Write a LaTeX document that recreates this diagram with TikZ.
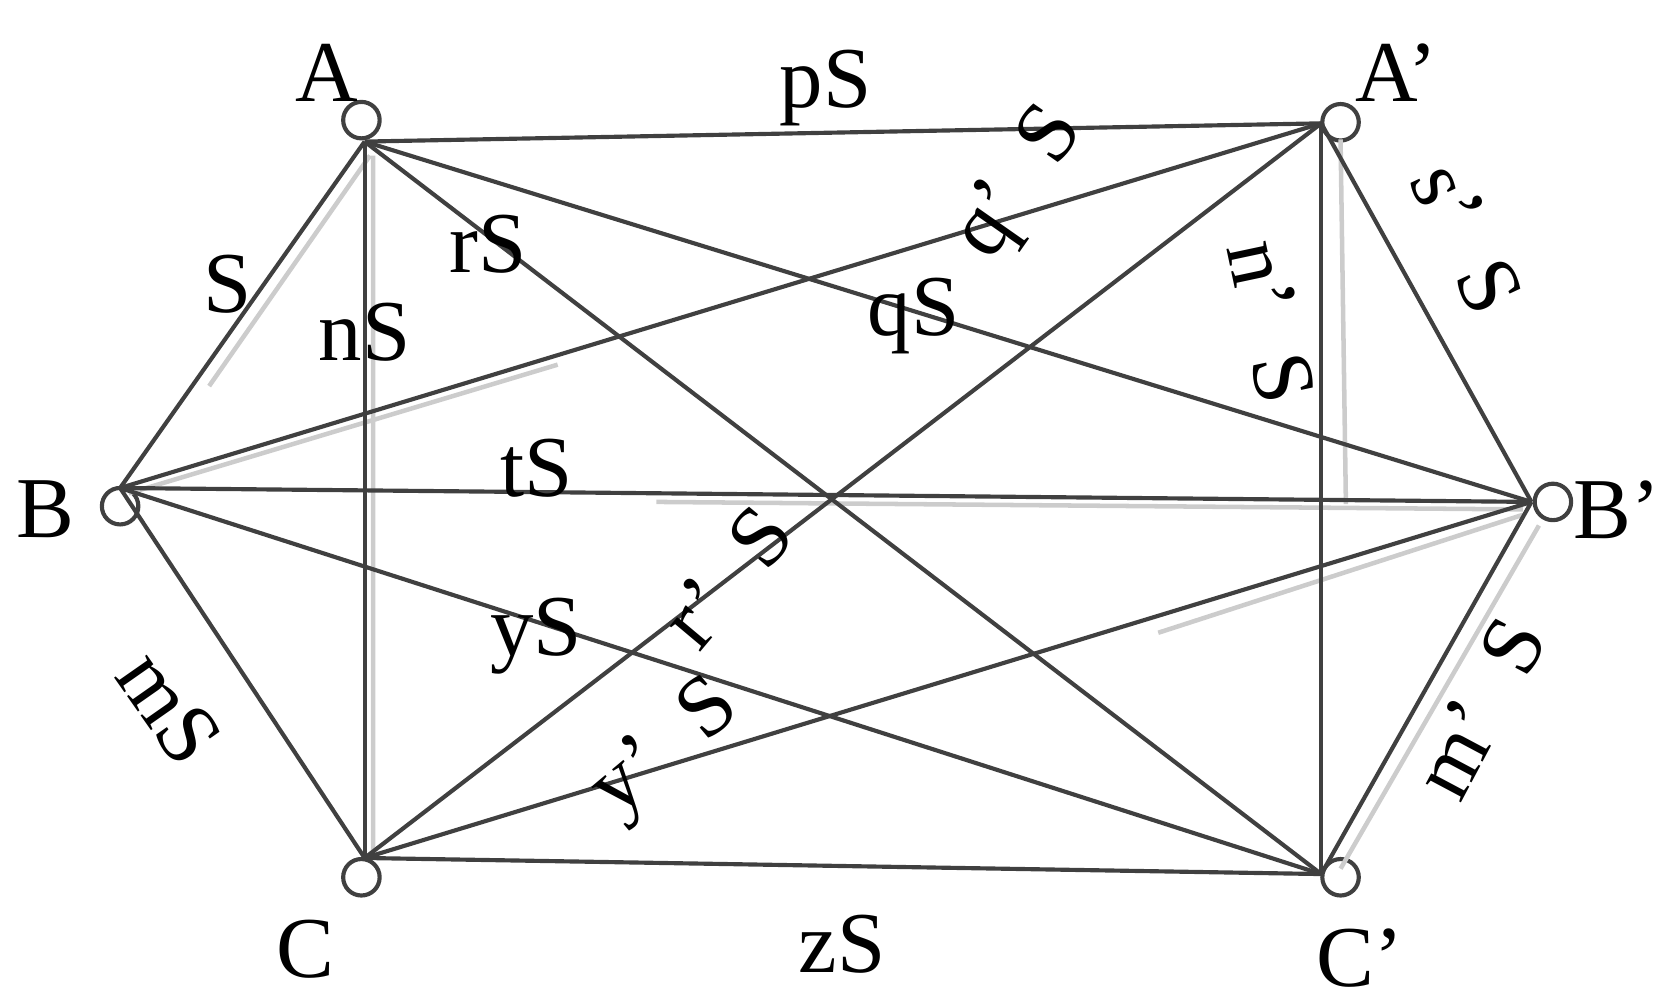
\documentclass[tikz,border=0pt]{standalone}
\usepackage{fontspec}
\setmainfont{Liberation Serif}
\begin{document}
\begin{tikzpicture}[x=0.01cm,y=-0.01cm,
 edge/.style={draw=black!75,line width=1.1pt},
 vtx/.style={circle,draw=black!75,line width=1.1pt,minimum size=0.34cm,inner sep=0pt},
 lbl/.style={font=\fontsize{23}{27}\selectfont,inner sep=1pt}]
\useasboundingbox (0,0) rectangle (1560,938);
\node[vtx] (a) at (337,112) {};
\node[vtx] (ap) at (1250,114) {};
\node[vtx] (b) at (112,472) {};
\node[vtx] (bp) at (1448,468) {};
\node[vtx] (c) at (337,818) {};
\node[vtx] (cp) at (1250,818) {};
\coordinate (A) at (340,132);
\coordinate (Ap) at (1232,115);
\coordinate (B) at (112,455);
\coordinate (Bp) at (1428,468);
\coordinate (C) at (340,800);
\coordinate (Cp) at (1232,815);
% light shadow strokes
\draw[black!20,line width=1.2pt] (345,145) -- (195,360) (348,145) -- (348,800) (120,460) -- (520,340) (612,468) -- (1420,475) (1080,590) -- (1420,480) (1250,130) -- (1255,470) (1250,810) -- (1435,490);
\foreach \u/\v in {A/Ap,A/B,A/C,A/Cp,A/Bp,Ap/B,Ap/C,Ap/Bp,Ap/Cp,B/Bp,B/C,B/Cp,Bp/C,Bp/Cp,C/Cp}
  \draw[edge] (\u) -- (\v);
\node[lbl] (lA) at (305,68) {A};
\node[lbl] (lAp) at (1302,68) {A’};
\node[lbl] (lB) at (42,475) {B};
\node[lbl] (lBp) at (1508,475) {B’};
\node[lbl] (lC) at (285,885) {C};
\node[lbl] (lCp) at (1268,893) {C’};
\node[lbl] (pS) at (770,82) {pS};
\node[lbl] (S) at (212,265) {S};
\node[lbl] (nS) at (340,310) {nS};
\node[lbl] (rS) at (455,228) {rS};
\node[lbl] (qS) at (852,295) {qS};
\node[lbl] (tS) at (500,437) {tS};
\node[lbl] (yS) at (500,593) {yS};
\node[lbl] (zS) at (785,880) {zS};
\node[lbl,rotate=-55] (mS) at (158,660) {mS};
\node[lbl,rotate=55] (qpS) at (952,172) {q’\enspace S};
\node[lbl,rotate=-78] (npS) at (1185,300) {n’\enspace S};
\node[lbl,rotate=-65] (spS) at (1368,222) {s’\enspace S};
\node[lbl,rotate=50] (rpS) at (678,538) {r’\enspace S};
\node[lbl,rotate=40] (ypS) at (622,700) {y’\enspace S};
\node[lbl,rotate=62] (mpS) at (1380,660) {m’\enspace S};
\end{tikzpicture}
\end{document}
